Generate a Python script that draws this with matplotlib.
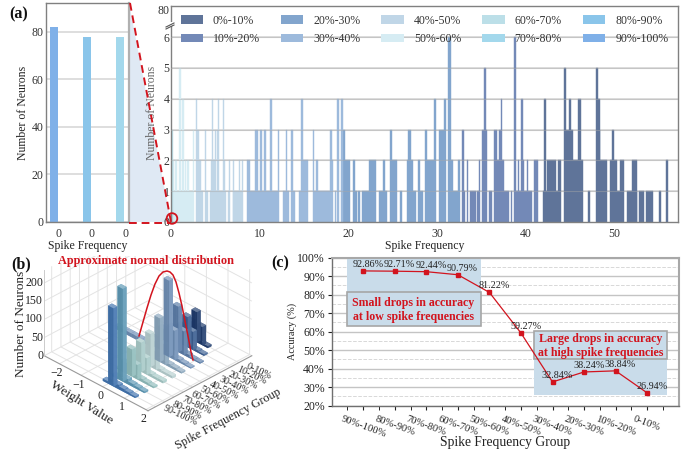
import numpy as np
import matplotlib
matplotlib.use("Agg")
import matplotlib.pyplot as plt
from matplotlib.colors import to_rgb
from matplotlib.patches import Patch, Rectangle, Circle, Polygon
from matplotlib.lines import Line2D
from mpl_toolkits.mplot3d import proj3d

plt.rcParams['font.family'] = ['Liberation Serif', 'DejaVu Serif']
W, H = 699, 451
GRAY = '#808080'
GRID = '#d4d4d4'
RED = '#d2141e'

group_labels = ['0%-10%', '10%-20%', '20%-30%', '30%-40%', '40%-50%',
                '50%-60%', '60%-70%', '70%-80%', '80%-90%', '90%-100%']
group_colors = ['#5f7499', '#7389b7', '#82a5cd', '#9dbadc', '#c0d6e7',
                '#d6ecf3', '#bcdfe8', '#a3d8ec', '#8ac5ea', '#7fb0e8']

# (a) zero-frequency counts, left panel
zero_counts = [82, 78, 78]
zero_colors = ['#7fb0e8', '#8ac5ea', '#a3d8ec']
zero_ticks = ['0', '0', '0']

# (a) histogram runs: (start frequency, end frequency, neuron count)
g60_70 = [(0.0, 0.22, 3)]
g50_60 = [(0.22, 0.45, 1), (0.5, 0.95, 1), (0.95, 1.1, 5), (1.1, 1.28, 1), (1.28, 1.43, 4),
          (1.43, 1.85, 1), (1.85, 2.0, 2), (2.05, 2.45, 1), (2.48, 2.6, 3),
          (0.5, 0.65, 2), (1.55, 1.65, 2), (0.2, 0.33, 2)]
g40_50 = [(2.82, 2.93, 4), (2.93, 3.16, 3), (3.16, 3.42, 2), (3.42, 3.6, 1),
          (3.83, 3.95, 3), (3.95, 4.17, 1), (4.4, 4.47, 1), (4.47, 4.6, 2),
          (4.6, 4.74, 4), (4.74, 4.92, 2), (4.92, 5.04, 3), (5.04, 5.2, 1),
          (5.2, 5.3, 3), (5.3, 5.41, 4), (5.41, 5.87, 1), (5.87, 5.98, 4),
          (5.98, 6.1, 2), (6.1, 6.24, 1), (6.45, 6.54, 1), (6.54, 6.65, 2),
          (6.95, 7.03, 1), (7.03, 7.14, 2), (7.14, 7.63, 1), (7.63, 7.78, 2),
          (7.78, 8.0, 1), (8.0, 8.16, 2)]
g30_40 = [(8.53, 8.95, 2), (8.95, 9.47, 1), (9.47, 9.85, 3), (9.85, 10.04, 1),
          (10.04, 10.23, 3), (10.23, 10.49, 1), (10.49, 10.71, 3), (10.71, 11.13, 1),
          (11.13, 11.35, 4), (11.35, 12.03, 1), (12.03, 12.18, 3), (12.67, 13.0, 1),
          (13.0, 13.12, 3), (13.12, 13.31, 1), (13.53, 13.77, 3), (13.77, 13.95, 1),
          (14.44, 14.62, 1), (14.62, 14.85, 4), (14.85, 15.41, 2), (16.0, 16.13, 3),
          (16.13, 16.35, 1), (16.35, 16.54, 2), (16.54, 17.93, 1), (17.93, 18.15, 3),
          (18.15, 18.3, 2), (18.5, 18.65, 1), (18.76, 18.98, 4), (19.17, 19.36, 4)]
g20_30 = [(19.36, 19.66, 3), (19.66, 20.19, 2), (20.53, 20.75, 2), (20.75, 20.94, 1),
          (21.05, 21.3, 1), (21.54, 22.33, 1), (22.33, 23.12, 2), (23.42, 23.95, 1),
          (23.95, 24.14, 2), (24.14, 24.4, 1), (24.7, 24.92, 3), (24.92, 25.53, 2),
          (25.83, 26.05, 1), (26.58, 26.77, 2), (26.77, 27.03, 3), (27.03, 27.33, 2),
          (27.33, 27.63, 1), (27.9, 28.1, 2), (28.1, 28.4, 1), (28.65, 28.9, 3),
          (28.9, 29.7, 2), (29.7, 29.92, 4), (30.26, 30.79, 3), (30.79, 31.0, 4),
          (31.28, 31.54, 6), (31.54, 31.8, 2), (31.8, 32.33, 1), (32.33, 32.56, 2)]
g10_20 = [(32.82, 33.05, 3), (33.05, 33.2, 1), (33.38, 33.53, 2), (33.76, 34.36, 1),
          (34.51, 34.74, 1), (34.74, 34.9, 2), (35.08, 35.3, 3), (35.3, 35.5, 5),
          (35.5, 35.68, 3), (35.87, 36.24, 1), (36.47, 36.8, 3), (36.8, 37.03, 2),
          (37.03, 37.18, 3), (37.18, 37.35, 4), (37.35, 37.59, 2), (37.59, 38.16, 1),
          (38.35, 38.5, 1), (38.72, 38.95, 6), (38.95, 39.1, 1), (39.1, 39.3, 2),
          (39.3, 39.47, 1), (39.47, 39.7, 4), (39.7, 39.85, 2), (39.85, 40.11, 1),
          (40.11, 40.3, 2), (40.3, 40.75, 1), (40.98, 41.35, 2)]
g0_10 = [(41.95, 42.1, 1), (42.1, 42.3, 4), (42.3, 42.4, 1), (42.4, 43.41, 2), (43.41, 43.7, 1),
         (43.7, 43.98, 2), (44.32, 44.6, 5), (44.6, 44.89, 3), (44.89, 45.1, 4),
         (45.1, 45.41, 3), (45.41, 45.94, 2), (45.94, 46.24, 4), (46.24, 46.5, 2),
         (47.07, 47.3, 1), (47.93, 48.15, 5), (48.15, 48.38, 4), (48.38, 48.45, 3),
         (48.45, 49.2, 2), (49.58, 49.81, 2), (49.81, 50.03, 3), (50.03, 50.34, 2),
         (50.34, 50.64, 1), (50.64, 51.13, 2), (51.46, 51.99, 1), (51.99, 52.52, 2),
         (52.52, 52.59, 1), (52.8, 53.34, 1), (53.6, 54.4, 1), (55.04, 55.26, 1),
         (55.83, 56.1, 2)]
hist_runs = [g0_10, g10_20, g20_30, g30_40, g40_50, g50_60, g60_70]
main_yticks = [0, 1, 2, 3, 4, 5, 6]
main_xticks = [0, 10, 20, 30, 40, 50]

# (b) per-group weight histogram, front (90-100%) to back (0-10%)
b_groups = ['90-100%', '80-90%', '70-80%', '60-70%', '50-60%',
            '40-50%', '30-40%', '20-30%', '10-20%', '0-10%']
b_colors = ['#3f72ae', '#5b97b4', '#8fbcbc', '#a8cac8', '#b7cfd0',
            '#8aa6bd', '#6f8fb6', '#5a7ca8', '#3c5f92', '#1d3a6c']
b_bins = [-2.25, -2.0, -1.75, -1.5, -1.25, -1.0, -0.75, -0.5, -0.25, 0.0, 0.25, 0.5, 0.75, 1.0]
b_heights = [
    [0, 0, 0, 0, 0, 0, 0, 0, 6, 215, 12, 8, 6, 4],
    [0, 0, 0, 0, 0, 0, 0, 0, 6, 255, 14, 8, 6, 4],
    [0, 0, 0, 0, 0, 0, 0, 4, 30, 75, 40, 8, 6, 4],
    [0, 0, 0, 0, 0, 0, 0, 4, 40, 80, 45, 8, 6, 6],
    [0, 0, 0, 0, 0, 0, 0, 4, 45, 90, 50, 8, 6, 6],
    [0, 0, 0, 0, 0, 0, 0, 4, 50, 120, 55, 8, 6, 4],
    [10, 10, 10, 10, 10, 10, 10, 10, 70, 210, 80, 8, 5, 3],
    [0, 0, 0, 0, 4, 4, 4, 6, 60, 125, 65, 8, 4, 3],
    [0, 0, 0, 0, 0, 0, 0, 6, 50, 83, 50, 6, 4, 0],
    [0, 0, 0, 0, 0, 0, 0, 4, 50, 83, 50, 5, 0, 0],
]
b_zticks = [0, 50, 100, 150, 200]

# (c) accuracy by group
acc_groups = ['90%-100%', '80%-90%', '70%-80%', '60%-70%', '50%-60%',
              '40%-50%', '30%-40%', '20%-30%', '10%-20%', '0-10%']
accuracy = [92.86, 92.71, 92.44, 90.79, 81.22, 59.27, 32.84, 38.24, 38.84, 26.94]
acc_labels = ['92.86%', '92.71%', '92.44%', '90.79%', '81.22%',
              '59.27%', '32.84%', '38.24%', '38.84%', '26.94%']


def box(x0, y0, x1, y1):
    return [x0 / W, 1 - y1 / H, (x1 - x0) / W, (y1 - y0) / H]


fig = plt.figure(figsize=(W / 100, H / 100), dpi=100)

# ---------- overlay below axes: zoom wedge
under = fig.add_axes([0, 0, 1, 1], zorder=0)
under.set_xlim(0, W); under.set_ylim(H, 0); under.axis('off')
under.add_patch(Polygon([(129, 3), (129, 222), (171, 222)], closed=True, fc='#dfe9f4', ec='none'))

# ---------- (a) left panel
axL = fig.add_axes(box(46, 3, 129, 222), zorder=2)
axL.bar(np.arange(3) - 0.03, zero_counts, width=-0.25, align='edge', color=zero_colors, zorder=2)
axL.set_xlim(-0.39, 2.12); axL.set_ylim(0, 92.2)
axL.set_xticks(np.arange(3)); axL.set_xticklabels(zero_ticks, fontsize=8.5)
axL.set_yticks([0, 20, 40, 60, 80]); axL.tick_params(axis='y', labelsize=8.5, length=0, pad=2, colors='#333333')
axL.tick_params(axis='x', length=0, pad=4, colors='#333333')
axL.grid(axis='y', color=GRID, lw=1.1); axL.set_axisbelow(True)
for s in axL.spines.values():
    s.set_color(GRAY); s.set_linewidth(1)
axL.spines['right'].set_color('#b0b0b0'); axL.spines['right'].set_linewidth(1.6)
axL.set_ylabel('Number of Neurons', fontsize=8.5, labelpad=1.5, color='#222222')
axL.set_xlabel('Spike Frequency', fontsize=8.5, labelpad=0.5, color='#222222')

# ---------- (a) main panel
axM = fig.add_axes(box(171, 6, 678, 222), zorder=2)
axM.patch.set_alpha(0)
for v in main_yticks[1:]:
    axM.axhline(v, color=GRID, lw=1.1, zorder=0.5)
for runs, col in zip(hist_runs, group_colors[:7]):
    for a, b, h in runs:
        axM.bar(a, h, width=b - a, align='edge', color=col, ec=col, lw=0.3, zorder=1)
axM.set_xlim(0, 57.2); axM.set_ylim(0, 7.01)
axM.set_xticks(main_xticks)
axM.set_yticks(main_yticks + [6.9]); axM.set_yticklabels([str(v) for v in main_yticks] + ['80'])
axM.tick_params(axis='both', labelsize=8.5, length=0, colors='#333333')
axM.tick_params(axis='x', pad=4)
axM.tick_params(axis='y', pad=1)
for v in main_yticks[1:]:
    axM.axhline(v, color='#a8a8a8', lw=0.8, alpha=0.45, zorder=3)
for s in axM.spines.values():
    s.set_color(GRAY); s.set_linewidth(1)
axM.set_xlabel('Spike Frequency', fontsize=8.5, labelpad=0.5, color='#222222')
handles = [Patch(fc=c, ec='none', label=l) for c, l in zip(group_colors, group_labels)]
axM.legend(handles=handles, ncol=5, frameon=False, fontsize=8.5, loc='upper left',
           bbox_to_anchor=(180.5 / W, 1 - 14.5 / H), bbox_transform=fig.transFigure,
           borderpad=0, borderaxespad=0, handlelength=1.9, handleheight=0.7,
           handletextpad=0.85, columnspacing=1.77, labelspacing=0.55, labelcolor='#333333')
fig.text(152 / W, 1 - 113 / H, 'Number of Neurons', rotation=90, fontsize=8.5,
         color='#666666', ha='center', va='center', zorder=5)


def tint(c, f):
    r = np.array(to_rgb(c))
    return tuple(np.clip(r + (1 - r) * f, 0, 1)) if f >= 0 else tuple(r * (1 + f))


# ---------- (b) 3D histogram
S3 = 224
cx3, cy3 = 145, 316
ax3 = fig.add_axes(box(cx3 - S3 / 2, cy3 - S3 / 2, cx3 + S3 / 2, cy3 + S3 / 2), projection='3d', zorder=1)
ax3.patch.set_alpha(0)
ax3.set_proj_type('ortho')
ax3.view_init(elev=32, azim=-45)
ax3.set_box_aspect((4, 4, 2.75), zoom=1.0)
bin_w = 0.25
xmin3, xmax3, ymin3, ymax3, zmax3 = -2.7, 2.1, -0.8, 10.4, 235
for gi in range(len(b_groups)):
    c = b_colors[gi]
    faces = [c, tint(c, 0.35), tint(c, -0.08), c, c, tint(c, 0.12)]
    for xb, h in zip(b_bins, b_heights[gi]):
        if h > 0:
            ax3.bar3d(xb, gi - 0.2, 0, bin_w, 0.4, h, color=faces, alpha=0.88, shade=False, lw=0)
ax3.set_xlim(xmin3, xmax3); ax3.set_ylim(ymin3, ymax3); ax3.set_zlim(0, zmax3)
ax3.set_xticks([-2, -1, 0, 1, 2]); ax3.set_xticklabels(['\u22122', '\u22121', '0', '1', '2'])
ax3.set_yticks(np.arange(10)); ax3.set_yticklabels(b_groups, rotation=-25, ha='left', va='center')
ax3.set_zticks(b_zticks); ax3.set_zticklabels([])
ax3.tick_params(axis='both', labelsize=8.5, pad=-6, colors='#222222')
ax3.tick_params(axis='y', labelsize=7.2, pad=-3)
for a in (ax3.xaxis, ax3.yaxis, ax3.zaxis):
    a.set_pane_color((1, 1, 1, 0))
    a.line.set_color('#999999')
    a._axinfo['grid']['color'] = '#e3e3e3'
    a._axinfo['grid']['linewidth'] = 0.7
    a._axinfo['tick']['inward_factor'] = 0
    a._axinfo['tick']['outward_factor'] = 0
ax3.zaxis.line.set_color((1, 1, 1, 0))
ax3.plot([xmin3, xmin3], [ymin3, ymin3], [0, zmax3], color='#cccccc', lw=0.7)
fig.canvas.draw()
for v in b_zticks:
    xs, ys, _ = proj3d.proj_transform(xmin3, ymin3, v, ax3.get_proj())
    px, py = ax3.transData.transform((xs, ys))
    fig.text((px - 1) / W, py / H, str(v), fontsize=8.5, ha='right', va='center', color='#222222')
fig.text(21 / W, 1 - 324 / H, 'Number of Neurons', rotation=90, fontsize=9.5, ha='center', va='center', color='#222222')
fig.text(81 / W, 1 - 403 / H, 'Weight Value', rotation=-32, fontsize=9.5, ha='center', va='center', color='#222222')
fig.text(228 / W, 1 - 419 / H, 'Spike Frequency Group', rotation=28, fontsize=8.8, ha='center', va='center', color='#222222')
fig.text(146 / W, 1 - 261 / H, 'Approximate normal distribution', fontsize=8.8, fontweight='bold',
         color=RED, ha='center', va='center')

# white band: the 3D panel is cropped above y = 256 in the reference
mask = fig.add_axes([0, 0, 1, 1], zorder=1.5)
mask.set_xlim(0, W); mask.set_ylim(H, 0); mask.axis('off'); mask.patch.set_alpha(0)
mask.add_patch(Rectangle((0, 223), 330, 33, fc='white', ec='none'))

# ---------- (c) accuracy
axC = fig.add_axes(box(331.7, 257.7, 679, 405.7), zorder=2)
x = np.arange(len(accuracy))
BLUE = '#c9dcea'
axC.set_xlim(-1, 10.01); axC.set_ylim(20, 100)
axC.set_yticks(np.arange(20, 101, 10)); axC.set_yticklabels([f'{v}%' for v in range(20, 101, 10)])
axC.set_yticks(np.arange(25, 100, 10), minor=True)
axC.set_xticks(x); axC.set_xticklabels(acc_groups, rotation=-20, ha='center', fontsize=7.6)
axC.set_xticks(np.arange(-0.5, 10, 1), minor=True)
axC.grid(axis='y', which='major', color='#c4c4c4', lw=1.0)
axC.grid(axis='y', which='minor', color='#d8d8d8', lw=0.7, ls='--')
axC.set_axisbelow(True)
axC.tick_params(axis='y', which='major', labelsize=8.5, length=3, pad=2, colors='#222222')
axC.tick_params(axis='y', which='minor', length=0)
axC.tick_params(axis='x', which='major', length=3, pad=3, colors='#222222')
axC.tick_params(axis='x', which='minor', length=3)
for s in ['top', 'right']:
    axC.spines[s].set_color('#a8a8a8'); axC.spines[s].set_linewidth(1.5)
for s in ['left', 'bottom']:
    axC.spines[s].set_color('#707070'); axC.spines[s].set_linewidth(1)
axC.add_patch(Rectangle((-0.515, 63.2), 4.235, 36.8, fc=BLUE, ec='none', zorder=1.5))
axC.add_patch(Rectangle((5.41, 26), 4.235, 34.5, fc=BLUE, ec='none', zorder=1.5))
axC.add_patch(Rectangle((-0.515, 63.2), 4.235, 18.4, fc='none', ec='#a6a6a6', lw=1.2, zorder=1.6))
axC.add_patch(Rectangle((5.41, 45.2), 4.235, 15.3, fc='none', ec='#a6a6a6', lw=1.2, zorder=1.6))
axC.plot(x, accuracy, color=RED, lw=0.9, marker='s', ms=3.4, zorder=3)
for xi, yi, t in zip(x, accuracy, acc_labels):
    axC.annotate(t, (xi, yi), xytext=(3.4, 4.8), textcoords='offset points', ha='center', va='center',
                 fontsize=7.3, color='#222222', zorder=4)
axC.text(1.58, 71.7, 'Small drops in accuracy\nat low spike frequencies', color=RED, fontsize=8.6,
         fontweight='bold', ha='center', va='center', linespacing=1.25, zorder=4)
axC.text(7.52, 52.4, 'Large drops in accuracy\nat high spike frequencies', color=RED, fontsize=8.6,
         fontweight='bold', ha='center', va='center', linespacing=1.25, zorder=4)
axC.set_xlabel('Spike Frequency Group', fontsize=9.8, labelpad=-2, color='#222222')
axC.set_ylabel('Accuracy (%)', fontsize=7.4, labelpad=0, color='#222222')

# ---------- overlay above axes: connectors, break marks, curve
over = fig.add_axes([0, 0, 1, 1], zorder=6)
over.set_xlim(0, W); over.set_ylim(H, 0); over.axis('off'); over.patch.set_alpha(0)
over.add_line(Line2D([130, 171], [3, 222], color=RED, lw=1.4, ls=(0, (4, 2.5))))
over.add_line(Line2D([129, 171], [222.5, 222.5], color=RED, lw=1.4, ls=(0, (4, 2.5))))
over.add_patch(Circle((172, 218.5), 5.3, fc='none', ec=RED, lw=1.3))
over.add_patch(Rectangle((166, 22), 9, 4, fc='white', ec='none'))
over.add_line(Line2D([166, 174], [27, 23], color='#555555', lw=0.8))
over.add_line(Line2D([166, 174], [29, 25], color='#555555', lw=0.8))
curve_x = [139, 143, 147, 151, 155, 159, 163, 167, 170, 173, 176, 179, 182, 185, 188, 191, 193]
curve_y = [336, 322, 308, 295, 284, 276, 272, 271, 272, 275, 282, 293, 306, 321, 336, 352, 360]
over.add_line(Line2D(curve_x, curve_y, color=RED, lw=1.1))
over.text(9, 14, '(a)', fontsize=11.5, fontweight='bold', va='center', color='#111111')
over.text(11, 264, '(b)', fontsize=11.5, fontweight='bold', va='center', color='#111111')
over.text(271, 263, '(c)', fontsize=11.5, fontweight='bold', va='center', color='#111111')

fig.savefig('out.png', dpi=100)
